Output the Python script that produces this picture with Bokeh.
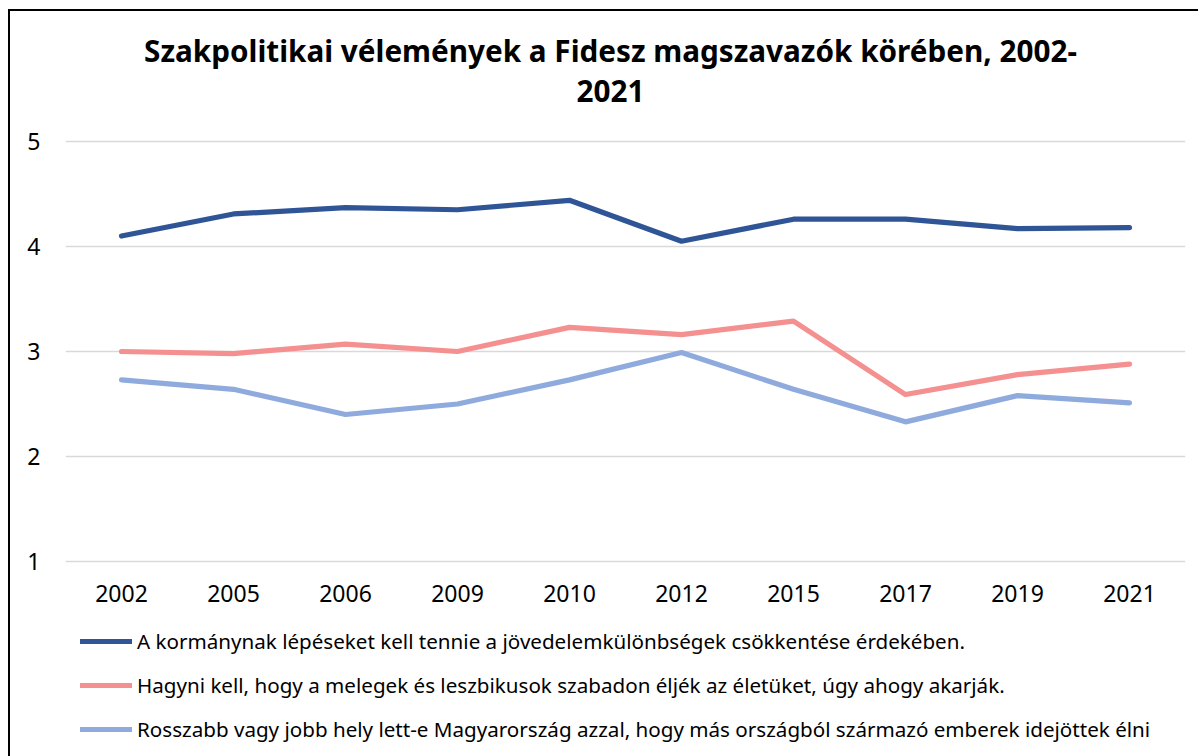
from bokeh.plotting import figure
from bokeh.models import Range1d, FactorRange, Legend, LegendItem, Label, FixedTicker
from bokeh.embed import file_html
from bokeh.resources import INLINE

years = ["2002", "2005", "2006", "2009", "2010", "2012", "2015", "2017", "2019", "2021"]
income = [4.10, 4.31, 4.37, 4.35, 4.44, 4.05, 4.26, 4.26, 4.17, 4.18]
gays = [3.00, 2.98, 3.07, 3.00, 3.23, 3.16, 3.29, 2.59, 2.78, 2.88]
migr = [2.73, 2.64, 2.40, 2.50, 2.73, 2.99, 2.64, 2.33, 2.58, 2.51]
labels = [
    "A kormánynak lépéseket kell tennie a jövedelemkülönbségek csökkentése érdekében.",
    "Hagyni kell, hogy a melegek és leszbikusok szabadon éljék az életüket, úgy ahogy akarják.",
    "Rosszabb vagy jobb hely lett-e Magyarország azzal, hogy más országból származó emberek idejöttek élni",
]
colors = ["#2F5597", "#F4908F", "#8FAADC"]
title_lines = ["Szakpolitikai vélemények a Fidesz magszavazók körében, 2002-", "2021"]
y_ticks = [1, 2, 3, 4, 5]

FONT = "Noto Sans"
PX = 105.0  # pixels per unit on the value axis

# frame spans the whole canvas height; value axis 1..5 occupies the middle band
p = figure(x_range=FactorRange(*years, range_padding=0),
           y_range=Range1d(1 - 195 / PX, 1 + 550 / PX),
           frame_width=1120, frame_height=745,
           min_border_left=55, min_border_right=13, min_border_top=0, min_border_bottom=0,
           output_backend="svg", toolbar_location=None)
p.styles = {"margin-left": "8px", "margin-top": "9px",
            "border-top": "2px solid black", "border-left": "2px solid black"}
p.outline_line_color = None

for txt, yv in zip(title_lines, [1 + 511 / PX, 1 + 471 / PX]):
    p.add_layout(Label(x=4.866, y=yv, text=txt, text_align="center", text_baseline="middle",
                       text_font=FONT, text_font_size="29.7px", text_font_style="bold",
                       text_color="#000000"))

rs = []
for vals, c in zip([income, gays, migr], colors):
    r = p.line(years, vals, line_color=c, line_width=5.2, line_cap="round", line_join="round")
    rs.append(r)

p.xgrid.grid_line_color = None
p.ygrid.grid_line_color = "#D9D9D9"
p.ygrid.grid_line_width = 1.5
p.yaxis.ticker = FixedTicker(ticks=y_ticks)
p.xaxis.fixed_location = y_ticks[0]
for ax in (p.xaxis[0], p.yaxis[0]):
    ax.axis_line_color = None
    ax.major_tick_line_color = None
    ax.minor_tick_line_color = None
    ax.major_label_text_font = FONT
    ax.major_label_text_font_size = "23px"
    ax.major_label_text_color = "#000000"
p.yaxis.major_label_standoff = 19
p.xaxis.major_label_standoff = 17

legend = Legend(items=[LegendItem(label=l, renderers=[r]) for l, r in zip(labels, rs)],
                location=(15, 13), orientation="vertical",
                glyph_width=52, glyph_height=20, label_height=20, label_standoff=5,
                spacing=16, padding=0, margin=0,
                label_text_font=FONT, label_text_font_size="20.6px", label_text_color="#000000",
                border_line_color=None, background_fill_alpha=0)
p.add_layout(legend, "center")

open("out.html", "w").write(file_html(p, INLINE))
